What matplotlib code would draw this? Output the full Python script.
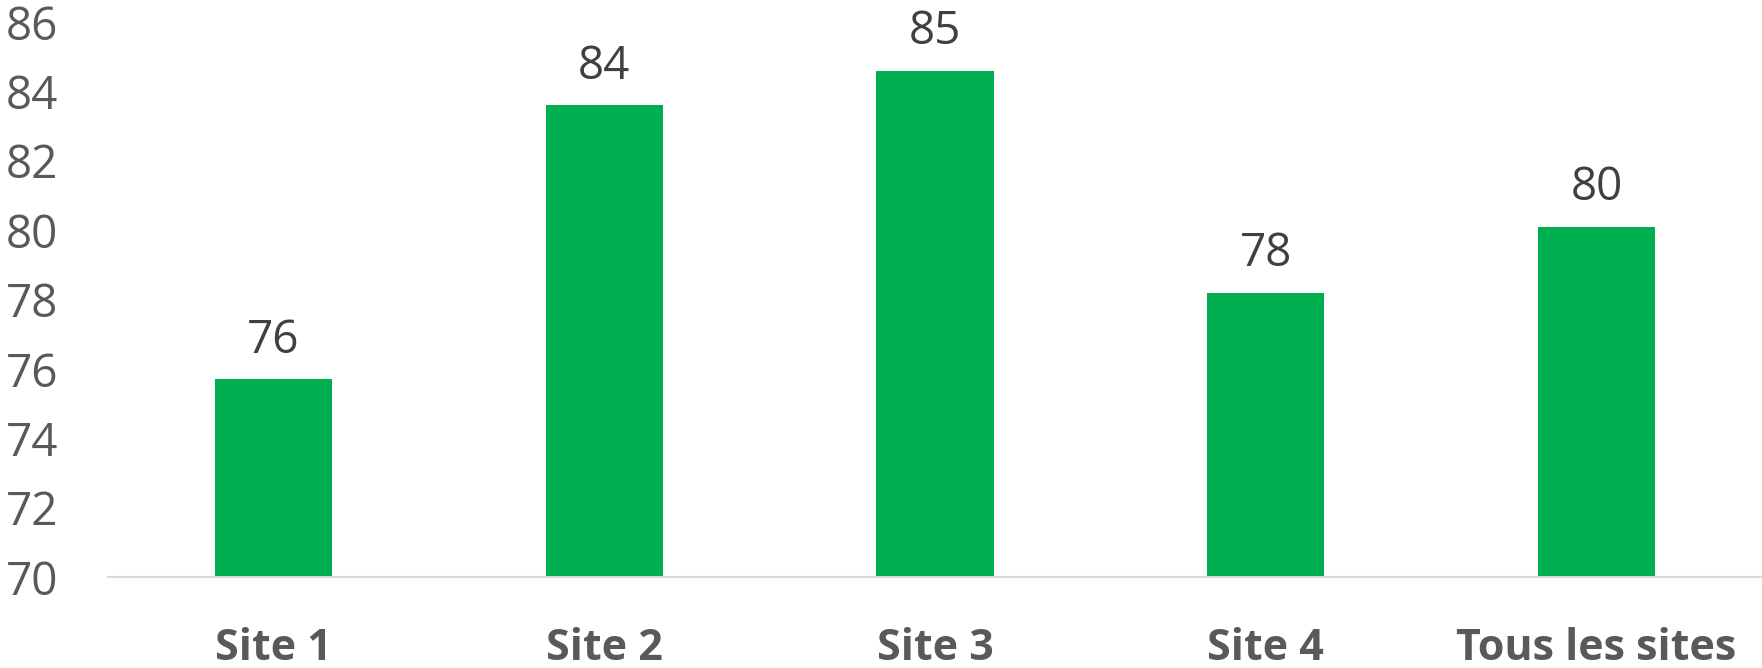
"""Score par site - histogramme vertical (1762x668)"""
import matplotlib
matplotlib.use("Agg")
import matplotlib.pyplot as plt

matplotlib.rcParams["font.family"] = ["Open Sans", "DejaVu Sans"]

COLOR_BAR = "#00B050"
COLOR_TICK = "#595959"
COLOR_LABEL = "#404040"
COLOR_AXIS = "#D9D9D9"

# données
categories = ["Site 1", "Site 2", "Site 3", "Site 4", "Tous les sites"]
values = [75.7, 83.6, 84.6, 78.2, 80.1]
yticks = [70, 72, 74, 76, 78, 80, 82, 84, 86]

fig = plt.figure(figsize=(17.62, 6.68), dpi=100, facecolor="white")
ax = fig.add_axes([108 / 1762, 1 - 577.3 / 668, 1 - 108 / 1762, (577.3 - 22) / 668])

x = list(range(len(categories)))
ax.bar(x, [v - 70 for v in values], bottom=70, width=0.354, color=COLOR_BAR)

for xi, v in zip(x, values):
    ax.annotate(f"{v:.0f}", (xi, v), xytext=(0, 11), textcoords="offset points",
                ha="center", va="bottom", fontsize=33, color=COLOR_LABEL)

ax.set_xlim(-0.5, len(categories) - 0.5)
ax.set_ylim(70, 86)
ax.set_yticks(yticks)
ax.set_yticklabels([str(t) for t in yticks], fontsize=33, color=COLOR_TICK)
ax.set_xticks(x)
ax.set_xticklabels(categories, fontsize=31, fontweight="bold", color=COLOR_TICK)
ax.tick_params(axis="y", length=0, pad=36)
ax.tick_params(axis="x", length=0, pad=36)

for side in ["top", "right", "left"]:
    ax.spines[side].set_visible(False)
ax.spines["bottom"].set_color(COLOR_AXIS)
ax.spines["bottom"].set_linewidth(1.5)

fig.savefig("out.png", dpi=100, facecolor="white")
plt.close(fig)
